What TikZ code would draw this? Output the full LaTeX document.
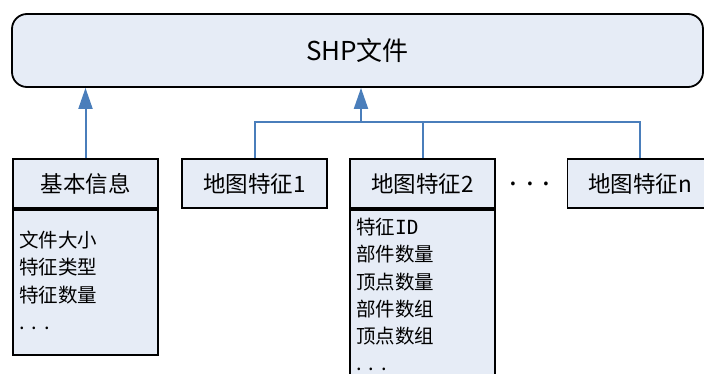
\documentclass[tikz,border=0pt]{standalone}
\usepackage{fontspec}
\setmainfont{Noto Sans CJK SC}
\newfontfamily\cjkfont{Noto Sans CJK SC}
\newfontfamily\monofont{DejaVu Sans Mono}
\usetikzlibrary{arrows.meta}
\definecolor{boxfill}{HTML}{E6ECF6}
\definecolor{connblue}{HTML}{4A7EBB}
\tikzset{
  box/.style={draw=black, line width=1.8pt, fill=boxfill, inner sep=0pt},
  headbox/.style={box, minimum width=145pt, minimum height=49pt, font=\fontsize{22.5}{24}\selectfont},
  listtext/.style={inner sep=0pt, align=left, anchor=north west, font=\fontsize{19.5}{27.2}\selectfont},
  conn/.style={draw=connblue, line width=2pt},
  arrowconn/.style={conn, -{Triangle[length=21pt,width=14pt]}, shorten >=0pt},
}
\newcommand{\listdots}{{\fontsize{20}{27.2}\selectfont.\kern7pt.\kern7pt.}}
\begin{document}
\begin{tikzpicture}[x=1pt,y=-1pt]
\useasboundingbox (0,0) rectangle (704,374);
\clip (0,0) rectangle (704,374);
% top box
\node[box, rounded corners=15pt, minimum width=691pt, minimum height=73pt, font=\fontsize{26}{28}\selectfont] (top) at (357.5,50.5) {SHP文件};
% basic info
\node[headbox] (basic) at (85.5,183.5) {基本信息};
\node[box, minimum width=145pt, minimum height=145pt, anchor=north] (basicbody) at (basic.south) {};
\node[listtext] (basiclist) at (19,231) {文件大小\\特征类型\\特征数量\\\listdots};
% features
\node[headbox] (f1) at (254.5,183.5) {地图特征1};
\node[headbox] (f2) at (422.5,183.5) {地图特征2};
\node[box, minimum width=145pt, minimum height=175pt, anchor=north] (f2body) at (f2.south) {};
\node[listtext] (f2list) at (356,218) {特征{\monofont ID}\\部件数量\\顶点数量\\部件数组\\顶点数组\\\listdots};
\node[inner sep=0pt, font=\fontsize{28}{30}\selectfont] (dots) at (530,184) {.\kern9pt.\kern9pt.};
\node[headbox] (fn) at (640,183.5) {地图特征n};
% connectors
\coordinate (jn) at (361,122.5);
\draw[arrowconn] (basic.north) -- (basic.north |- top.south);
\draw[conn] (f1.north) |- (fn.north |- jn) -- (fn.north);
\draw[conn] (f2.north) -- (f2.north |- jn);
\draw[arrowconn] (jn) -- (jn |- top.south);
\end{tikzpicture}
\end{document}
